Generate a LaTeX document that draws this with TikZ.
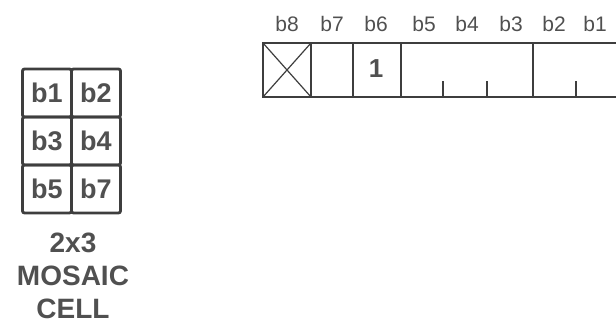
\documentclass[tikz,border=0pt]{standalone}
\usepackage{fontspec}
\setmainfont{Liberation Sans}
\usetikzlibrary{positioning}
\begin{document}
\begin{tikzpicture}[x=0.5pt, y=-0.5pt, every node/.style={align=center}]
    % colours: dark grey ink on white
    \definecolor{inkline}{RGB}{62,62,62}
    \definecolor{inktext}{RGB}{80,80,80}

    % styles
    \tikzstyle{bitlabel} = [font=\fontsize{10.5}{12}\selectfont, text=inktext, inner sep=0pt]
    \tikzstyle{mcell} = [rectangle, rounded corners=1pt, draw=inkline, line width=1.4pt, minimum width=24.5pt, minimum height=24pt, inner sep=0pt, outer sep=0pt, font=\fontsize{13.5}{15}\selectfont\bfseries, text=inktext]
    \tikzstyle{regline} = [draw=inkline, line width=1pt]

    \useasboundingbox (0,0) rectangle (616,324);

    % byte register, open at the right
    \draw[regline] (616,43) -- (263,43) -- (263,97) -- (616,97);
    \foreach \xv in {311,353,401,533} \draw[regline] (\xv,43) -- (\xv,97);
    \foreach \xv in {443,487,576} \draw[regline] (\xv,97) -- (\xv,81);
    \draw[regline, line width=0.6pt] (263,43) -- (311,97) (263,97) -- (311,43);
    \node[font=\fontsize{13}{15}\selectfont\bfseries, text=inktext] (bitone) at (376,69) {1};

    % bit labels
    \foreach \lbl/\xv in {b8/287, b7/332, b6/376, b5/424, b4/467, b3/511, b2/554, b1/595}
        \node[bitlabel] (lbl-\lbl) at (\xv,24) {\lbl};

    % 2x3 mosaic cell
    \node[mcell] (m1) at (47,93) {b1};
    \node[mcell, right=0pt of m1] (m2) {b2};
    \node[mcell, below=0pt of m1] (m3) {b3};
    \node[mcell, right=0pt of m3] (m4) {b4};
    \node[mcell, below=0pt of m3] (m5) {b5};
    \node[mcell, right=0pt of m5] (m7) {b7};

    \node[font=\fontsize{14}{16.5}\selectfont\bfseries, text=inktext, inner sep=0pt] (title) at (73,276) {2x3\\MOSAIC\\CELL};
  \end{tikzpicture}
\end{document}
